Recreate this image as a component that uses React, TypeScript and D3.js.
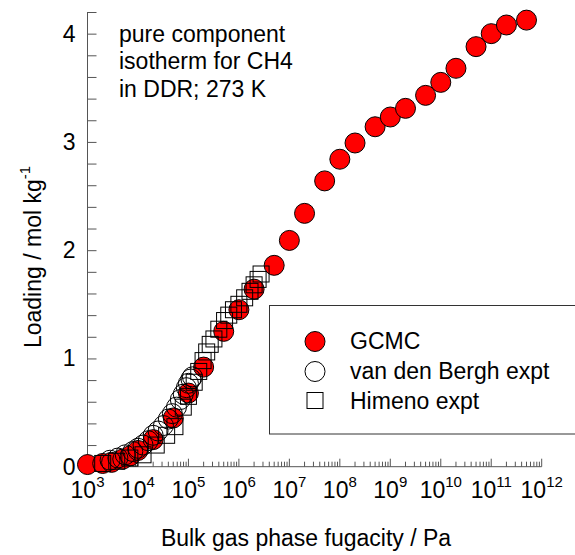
import React, { useEffect, useRef } from 'react';
import * as d3 from 'd3';

// fugacity (Pa) and loading (mol/kg)
const gcmcFugacity = [1e3, 2e3, 3e3, 5e3, 7e3, 1e4, 2e4, 5e4, 1e5, 2e5, 5e5, 1e6, 2e6, 5e6, 1e7, 2e7, 5e7, 1e8, 2e8, 5e8, 1e9, 2e9, 5e9, 1e10, 2e10, 5e10, 1e11, 2e11, 5e11];
const gcmcLoading = [0.02, 0.03, 0.04, 0.07, 0.1, 0.15, 0.25, 0.45, 0.68, 0.92, 1.25, 1.45, 1.64, 1.86, 2.09, 2.34, 2.64, 2.84, 2.99, 3.14, 3.23, 3.31, 3.43, 3.55, 3.68, 3.88, 4.0, 4.08, 4.125];

const bergFugacity = [2.8e3, 4.0e3, 5.6e3, 7.9e3, 1.0e4, 1.26e4, 1.6e4, 2.0e4, 2.5e4, 3.2e4, 4.0e4, 4.8e4, 5.8e4, 6.9e4, 7.9e4, 9.1e4, 1.0e5, 1.12e5, 1.2e5];
const bergLoading = [0.06, 0.08, 0.11, 0.14, 0.17, 0.2, 0.24, 0.29, 0.33, 0.38, 0.44, 0.49, 0.55, 0.62, 0.67, 0.73, 0.77, 0.81, 0.83];

const himenoFugacity = [2.0e3, 3.8e3, 6.9e3, 1.26e4, 2.3e4, 3.7e4, 5.4e4, 7.9e4, 1.0e5, 1.3e5, 1.6e5, 1.95e5, 2.3e5, 2.7e5, 3.2e5, 4.0e5, 5.2e5, 6.3e5, 7.8e5, 1.0e6, 1.3e6, 1.66e6, 2.0e6, 2.4e6, 2.75e6];
const himenoLoading = [0.03, 0.05, 0.08, 0.11, 0.2, 0.29, 0.37, 0.55, 0.65, 0.78, 0.88, 0.98, 1.06, 1.13, 1.18, 1.27, 1.35, 1.4, 1.45, 1.5, 1.56, 1.62, 1.68, 1.73, 1.78];

const yTicks = [0, 1, 2, 3, 4];
const xExponents = [3, 4, 5, 6, 7, 8, 9, 10, 11, 12];
const legendLabels = ['GCMC', 'van den Bergh expt', 'Himeno expt'];
const noteLines = ['pure component', 'isotherm for CH4', 'in DDR; 273 K'];

const FONT = "Arial, 'Liberation Sans', sans-serif";

const App = () => {
  const svgRef = useRef<SVGSVGElement>(null);

  useEffect(() => {
    const svg = d3.select(svgRef.current);
    svg.selectAll('*').remove();

    const x = d3.scaleLog().domain([1e3, 1e12]).range([87.5, 541.7]);
    const y = d3.scaleLinear().domain([0, 4.2]).range([466.7, 12]);
    const axisColor = '#555';

    // y axis with inside ticks
    const yAxis = d3.axisRight(y)
      .tickValues(d3.range(0, 4.21, 0.2))
      .tickSize(9)
      .tickFormat(() => '');
    const gy = svg.append('g').attr('transform', `translate(${x(1e3)},0)`).call(yAxis);
    gy.select('.domain').attr('stroke', axisColor).attr('d', `M0,${y(4.2)}V${y(0)}`);
    gy.selectAll('line').attr('stroke', axisColor);

    svg.selectAll('.ylab')
      .data(yTicks)
      .enter().append('text')
      .attr('x', x(1e3) - 12)
      .attr('y', d => y(d) + 8)
      .attr('text-anchor', 'end')
      .attr('font-size', 23)
      .attr('font-family', FONT)
      .text(d => d);

    // x axis: major decades + minor 2..9, pointing up
    const minor: number[] = [];
    for (let e = 3; e < 12; e++) {
      for (let m = 2; m <= 9; m++) minor.push(m * Math.pow(10, e));
    }
    const gx = svg.append('g');
    gx.append('line')
      .attr('x1', x(1e3)).attr('x2', x(1e12))
      .attr('y1', y(0)).attr('y2', y(0))
      .attr('stroke', axisColor);
    gx.selectAll('.minor').data(minor).enter().append('line')
      .attr('x1', d => x(d)).attr('x2', d => x(d))
      .attr('y1', y(0)).attr('y2', y(0) - 5)
      .attr('stroke', axisColor);
    gx.selectAll('.major').data(xExponents).enter().append('line')
      .attr('x1', d => x(Math.pow(10, d))).attr('x2', d => x(Math.pow(10, d)))
      .attr('y1', y(0)).attr('y2', y(0) - 8)
      .attr('stroke', axisColor);

    const xl = svg.selectAll('.xlab').data(xExponents).enter().append('text')
      .attr('x', d => x(Math.pow(10, d)))
      .attr('y', 498)
      .attr('text-anchor', 'middle')
      .attr('font-size', 23)
      .attr('font-family', FONT);
    xl.append('tspan').text('10');
    xl.append('tspan').attr('font-size', 15).attr('dy', -11).text(d => d);

    // axis titles
    const yt = svg.append('text')
      .attr('transform', 'translate(41,257) rotate(-90)')
      .attr('text-anchor', 'middle')
      .attr('font-size', 23)
      .attr('font-family', FONT);
    yt.append('tspan').text('Loading / mol kg');
    yt.append('tspan').attr('font-size', 15).attr('dy', -11).text('-1');

    svg.append('text')
      .attr('x', 306).attr('y', 546)
      .attr('text-anchor', 'middle')
      .attr('font-size', 23)
      .attr('font-family', FONT)
      .text('Bulk gas phase fugacity / Pa');

    // annotation
    svg.selectAll('.note').data(noteLines).enter().append('text')
      .attr('x', 119)
      .attr('y', (d, i) => 41.5 + i * 27.5)
      .attr('font-size', 23)
      .attr('font-family', FONT)
      .text(d => d);

    // series
    const gcmc = gcmcFugacity.map((f, i) => ({ f, v: gcmcLoading[i] }));
    const berg = bergFugacity.map((f, i) => ({ f, v: bergLoading[i] }));
    const himeno = himenoFugacity.map((f, i) => ({ f, v: himenoLoading[i] }));

    svg.append('g').selectAll('circle').data(gcmc).enter().append('circle')
      .attr('cx', d => x(d.f)).attr('cy', d => y(d.v)).attr('r', 10)
      .attr('fill', '#ff0000').attr('stroke', '#000').attr('stroke-width', 1);

    svg.append('g').selectAll('circle').data(berg).enter().append('circle')
      .attr('cx', d => x(d.f)).attr('cy', d => y(d.v)).attr('r', 10)
      .attr('fill', 'none').attr('stroke', '#000').attr('stroke-width', 1);

    svg.append('g').selectAll('rect').data(himeno).enter().append('rect')
      .attr('x', d => x(d.f) - 8).attr('y', d => y(d.v) - 8)
      .attr('width', 16).attr('height', 16)
      .attr('fill', 'none').attr('stroke', '#000').attr('stroke-width', 1);

    // legend
    const lg = svg.append('g');
    lg.append('rect')
      .attr('x', 269.5).attr('y', 305.5).attr('width', 310).attr('height', 128.5)
      .attr('fill', '#fff').attr('stroke', '#333');
    lg.append('circle').attr('cx', 315).attr('cy', 341.5).attr('r', 10)
      .attr('fill', '#ff0000').attr('stroke', '#000');
    lg.append('circle').attr('cx', 315).attr('cy', 371.5).attr('r', 10)
      .attr('fill', 'none').attr('stroke', '#000');
    lg.append('rect').attr('x', 307).attr('y', 392.5).attr('width', 16).attr('height', 16)
      .attr('fill', 'none').attr('stroke', '#000');
    lg.selectAll('.lt').data(legendLabels).enter().append('text')
      .attr('x', 350)
      .attr('y', (d, i) => 349 + i * 30)
      .attr('font-size', 23)
      .attr('font-family', FONT)
      .text(d => d);
  }, []);

  return (
    <svg
      ref={svgRef}
      width={575}
      height={555}
      style={{ position: 'absolute', left: 0, top: 0, background: '#fff' }}
    ></svg>
  );
};

export default App;
